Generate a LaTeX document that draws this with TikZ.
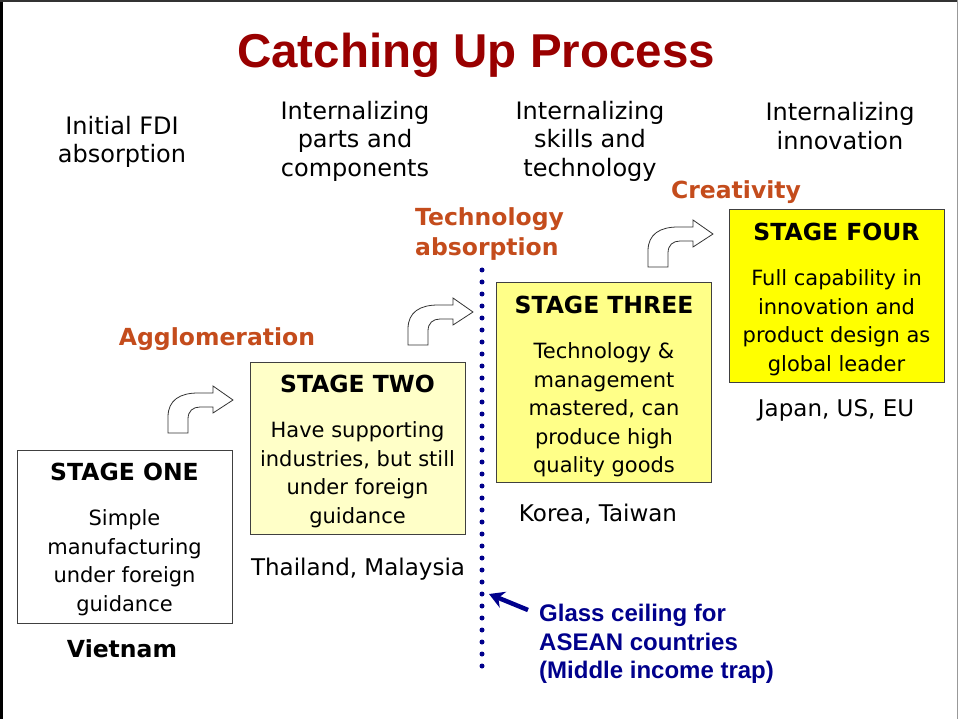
\documentclass[tikz,border=0pt]{standalone}
\usepackage{fontspec}
\setmainfont{DejaVu Sans}
\newfontfamily\arialfont{Liberation Sans}
\usepackage{tikz}
\usetikzlibrary{positioning}
\usetikzlibrary{arrows.meta}
\definecolor{titlered}{RGB}{153,0,0}
\definecolor{rust}{RGB}{196,76,28}
\definecolor{ceilblue}{RGB}{0,0,140}
\definecolor{paleyellow}{RGB}{255,255,200}
\definecolor{midyellow}{RGB}{255,255,136}
\definecolor{fullyellow}{RGB}{255,255,0}
\tikzstyle{stagebox}=[rectangle,draw=black!75,line width=1pt,minimum width=215pt,inner sep=0pt]
\tikzstyle{stagetitle}=[font=\fontsize{23.5}{28}\selectfont\bfseries,inner sep=0pt]
\tikzstyle{stagebody}=[font=\fontsize{21}{28.5}\selectfont,align=center,inner sep=0pt]
\tikzstyle{country}=[font=\fontsize{23}{28}\selectfont,inner sep=0pt]
\tikzstyle{phase}=[font=\fontsize{24}{28.5}\selectfont,align=center,inner sep=0pt]
\tikzstyle{driver}=[font=\fontsize{23.5}{30}\selectfont\bfseries,text=rust,align=left,inner sep=0pt]
\tikzstyle{bentarrow}=[draw=black!80,fill=white,line width=0.8pt]
\tikzstyle{ceiling}=[draw=ceilblue,line width=5pt,line cap=round,dash pattern=on 0pt off 12pt]
\tikzstyle{ceilarrow}=[draw=ceilblue,line width=4.5pt,-{Stealth[length=15pt,width=17pt]}]
% bent arrow, #1 = its lower left corner
\newcommand{\bendarrow}[1]{%
  \draw[bentarrow, shift={#1}] (0,0) -- (0,-16) .. controls (0,-33) and (12,-40) .. (30,-40)
    -- (45,-40) -- (45,-47) -- (65,-33) -- (45,-20) -- (45,-26) -- (32,-26)
    .. controls (25,-26) and (20,-22) .. (20,-14) -- (20,0) -- cycle;}

\begin{document}
\begin{tikzpicture}[x=1pt, y=-1pt]
    \useasboundingbox (0,0) rectangle (958,719);
    % frame of the slide
    \draw[line width=2.5pt] (1.5,0) -- (1.5,719);
    \draw[black!80, line width=2pt] (0,1.5) -- (958,1.5);
    \draw[black!40] (957.5,0) -- (957.5,719);

    \node[font=\fontsize{47.5}{50}\selectfont\arialfont\bfseries, text=titlered, inner sep=0pt] (title) at (476,55.5) {Catching Up Process};

    % the four phases on top
    \foreach \pos/\name/\txt in {{(122,142)/ph1/{Initial FDI\\absorption}}, {(355,141)/ph2/{Internalizing\\parts and\\components}}, {(590,141)/ph3/{Internalizing\\skills and\\technology}}, {(840,126)/ph4/{Internalizing\\innovation}}}
        \node[phase] (\name) at \pos {\txt};

    % First we draw the stage boxes
    \foreach \pos/\name/\hgt/\col in {{(124.5,536.5)/s1/173/white}, {(357.5,448)/s2/172/paleyellow}, {(604,382.5)/s3/199/midyellow}, {(836.5,296)/s4/172/fullyellow}}
        \node[stagebox, fill=\col, minimum height=\hgt pt] (\name) at \pos {};

    \foreach \name/\txt in {s1/STAGE ONE, s2/STAGE TWO, s3/STAGE THREE, s4/STAGE FOUR}
        \node[stagetitle, below=13.5pt of \name.north] (\name head) {\txt};

    \foreach \name/\txt in {{s1/{Simple\\manufacturing\\under foreign\\guidance}}, {s2/{Have supporting\\industries, but still\\under foreign\\guidance}}, {s3/{Technology \&\\management\\mastered, can\\produce high\\quality goods}}, {s4/{Full capability in\\innovation and\\product design as\\global leader}}}
        \node[stagebody, below=60pt of \name.north] (\name body) {\txt};

    % countries
    \node[country, font=\fontsize{23.5}{28}\selectfont\bfseries] (vn) at (122,649) {Vietnam};
    \node[country] (th) at (358,569) {Thailand, Malaysia};
    \node[country] (kr) at (598,514) {Korea, Taiwan};
    \node[country] (jp) at (836,410) {Japan, US, EU};

    % what drives each step
    \node[driver] (aggl) at (217,339) {Agglomeration};
    \node[driver, anchor=west] (techabs) at (415,234) {Technology\\absorption};
    \node[driver] (creat) at (736,192) {Creativity};

    \bendarrow{(168,433)}
    \bendarrow{(408,345)}
    \bendarrow{(648,267)}

    % glass ceiling
    \coordinate (ceiltop) at (482,270);
    \coordinate (ceilbot) at (482,668);
    \draw[ceiling] (ceiltop) -- (ceilbot);
    \node[font=\fontsize{24}{28.5}\selectfont\arialfont\bfseries, text=ceilblue, align=left, anchor=west, inner sep=0pt] (glass) at (539,644) {Glass ceiling for\\ASEAN countries\\(Middle income trap)};
    \coordinate (ceiltail) at (528,610);
    \coordinate (ceiltip) at (489,594);
    \draw[ceilarrow] (ceiltail) -- (ceiltip);
\end{tikzpicture}
\end{document}
